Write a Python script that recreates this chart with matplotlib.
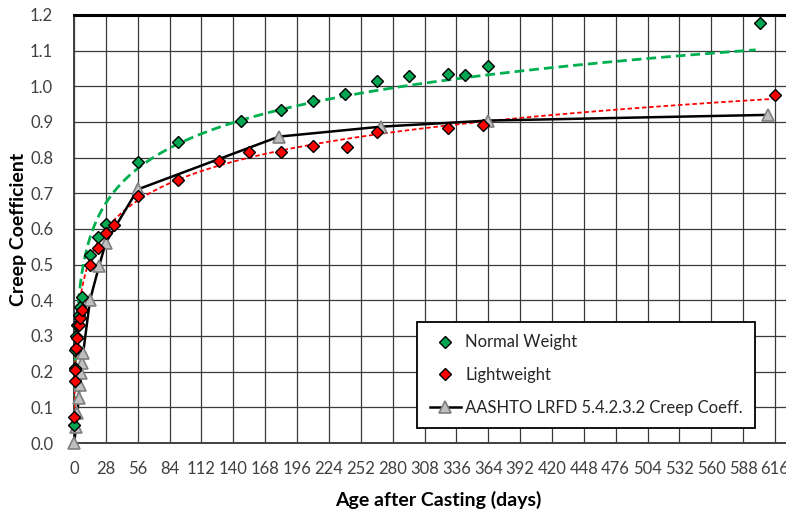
import matplotlib
matplotlib.use("Agg")
import matplotlib.pyplot as plt
import numpy as np

plt.rcParams['font.family'] = ['Lato', 'DejaVu Sans']

# Normal weight concrete, measured creep coefficient
nw_days = [0.3, 0.6, 1, 2, 3, 4, 5, 7, 14, 21, 28, 56, 91, 147, 182, 210, 238, 266,
           294, 329, 344, 364, 603]
nw_creep = [0.05, 0.21, 0.26, 0.30, 0.33, 0.36, 0.38, 0.41, 0.527, 0.578, 0.615, 0.788,
            0.843, 0.902, 0.935, 0.960, 0.978, 1.016, 1.030, 1.035, 1.032, 1.057, 1.178]

# Lightweight concrete, measured creep coefficient
lw_days = [0.3, 0.6, 1, 2, 3, 4, 5, 7, 14, 21, 28, 35, 56, 91, 127, 154, 182, 210,
           240, 266, 329, 359, 616]
lw_creep = [0.073, 0.175, 0.205, 0.265, 0.295, 0.33, 0.35, 0.373, 0.50, 0.548, 0.59,
            0.612, 0.693, 0.738, 0.792, 0.817, 0.816, 0.833, 0.831, 0.873, 0.884,
            0.892, 0.977]

# AASHTO LRFD 5.4.2.3.2 prediction
aashto_days = [0, 2, 3, 4, 5, 6, 7, 8, 14, 22, 28, 56, 180, 270, 364, 610]
aashto_creep = [0.0, 0.046, 0.083, 0.125, 0.163, 0.195, 0.225, 0.251, 0.40, 0.496,
                0.562, 0.711, 0.859, 0.887, 0.904, 0.920]

# logarithmic trendlines: y = a*ln(t) + b
nw_trend = [0.1403, 0.205]
lw_trend = [0.1189, 0.2014]
nw_trend_end = 599
lw_trend_end = 616

x_ticks = np.arange(0, 617, 28)
y_ticks = np.arange(0, 1.21, 0.1)

fig = plt.figure(figsize=(7.86, 5.14), dpi=100)
ax = fig.add_axes([74 / 786, 71 / 514, 712 / 786, 428 / 514])

# trendlines
t = np.geomspace(0.15, nw_trend_end, 400)
ax.plot(t, nw_trend[0] * np.log(t) + nw_trend[1], color='#00B050', lw=2.0,
        ls=(0, (3.5, 1.8)), zorder=3)
t = np.geomspace(0.15, lw_trend_end, 400)
ax.plot(t, lw_trend[0] * np.log(t) + lw_trend[1], color='#FF0000', lw=1.3,
        ls=(0, (2.5, 1.5)), zorder=3)

# AASHTO curve
ax.plot(aashto_days, aashto_creep, color='black', lw=1.8, marker='^', ms=8,
        mfc='#BFBFBF', mec='#7F7F7F', mew=1.2, zorder=4, clip_on=False,
        label='AASHTO LRFD 5.4.2.3.2 Creep Coeff.')

# measured data
ax.plot(nw_days, nw_creep, ls='none', marker='D', ms=6.5, mfc='#00A651', mec='black',
        mew=1.0, zorder=5, clip_on=False, label='Normal Weight')
ax.plot(lw_days, lw_creep, ls='none', marker='D', ms=6.5, mfc='#FF0000', mec='black',
        mew=1.0, zorder=5, clip_on=False, label='Lightweight')

ax.set_xlim(0, 616 + 11 / 1.138)
ax.set_ylim(0, 1.2)
ax.set_xticks(x_ticks)
ax.set_yticks(y_ticks)
ax.set_yticklabels([f'{v:.1f}' for v in y_ticks])
ax.tick_params(length=0, labelsize=12, colors='#404040')
ax.tick_params(axis='y', pad=15)
ax.tick_params(axis='x', pad=13)
ax.grid(True, color='#3a3a3a', lw=0.9)
ax.set_axisbelow(True)

for side in ['left', 'bottom']:
    ax.spines[side].set_color('#404040')
    ax.spines[side].set_linewidth(1.4)
ax.spines['top'].set_color('black')
ax.spines['top'].set_linewidth(2.2)
ax.spines['right'].set_visible(False)

fig.text(18.5 / 786, 1 - 229 / 514, 'Creep Coefficient', fontsize=14,
         fontweight='bold', rotation=90, ha='center', va='center')
fig.text(438 / 786, 1 - 500 / 514, 'Age after Casting (days)', fontsize=14,
         fontweight='bold', ha='center', va='center')

handles, labels = ax.get_legend_handles_labels()
order = [1, 2, 0]
leg = ax.legend([handles[i] for i in order], [labels[i] for i in order],
                loc='upper left', bbox_to_anchor=(417 / 786, 1 - 322 / 514),
                bbox_transform=fig.transFigure, fontsize=12, frameon=True,
                fancybox=False, edgecolor='black', framealpha=1, borderaxespad=0,
                handlelength=1.9, handletextpad=0.25, borderpad=0.75,
                labelspacing=1.0)
leg.get_frame().set_linewidth(1.3)
for txt in leg.get_texts():
    txt.set_color('#262626')

fig.savefig('out.png', dpi=100)
